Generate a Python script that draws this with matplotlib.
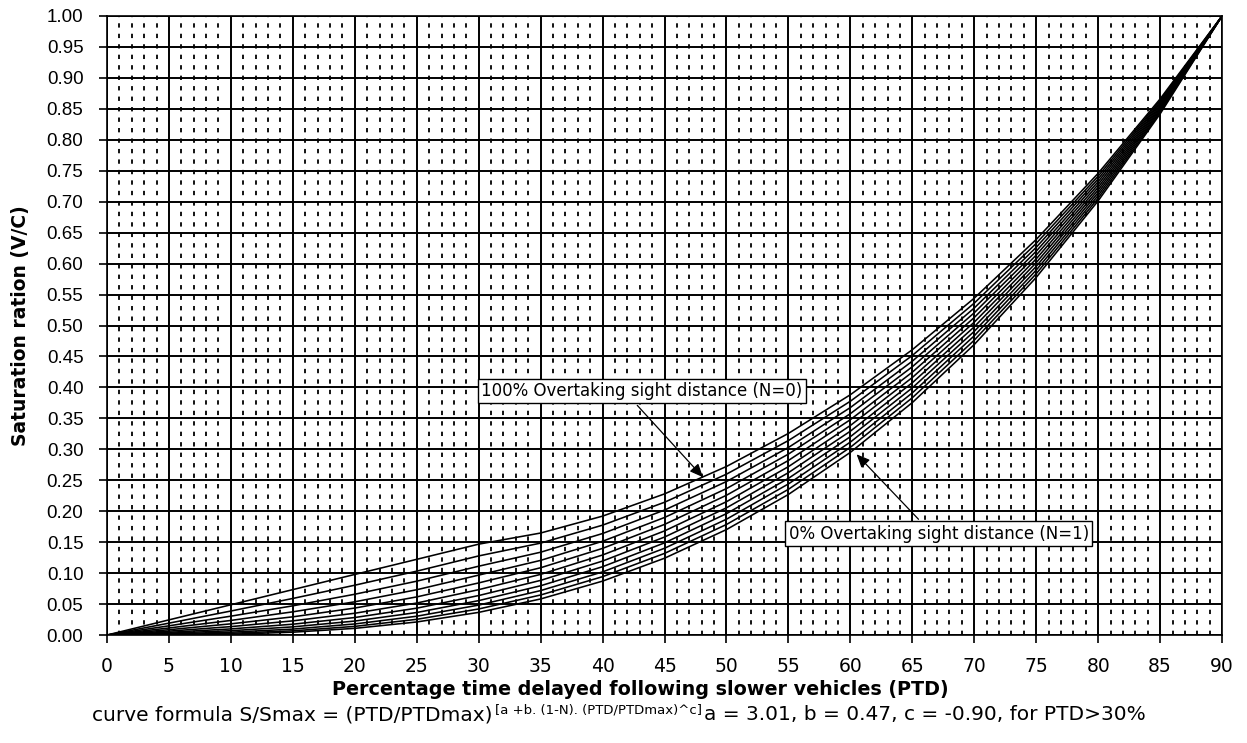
import matplotlib
matplotlib.use("Agg")
import matplotlib.pyplot as plt

ptd = [0, 5, 10, 15, 20, 25, 30, 35, 40, 45, 50, 55, 60, 65, 70, 75, 80, 85, 90]

# Saturation ratio read for each N (0 = 100% overtaking sight distance ... 1 = 0%)
sat_n00 = [0, 0.0245, 0.0489, 0.0734, 0.0979, 0.1223, 0.1468, 0.1648, 0.1921, 0.2280, 0.2723, 0.3257, 0.3882, 0.4609, 0.5442, 0.6390, 0.7459, 0.8660, 1.0]
sat_n01 = [0, 0.0192, 0.0388, 0.0591, 0.0805, 0.1032, 0.1278, 0.1485, 0.1775, 0.2145, 0.2599, 0.3142, 0.3777, 0.4516, 0.5362, 0.6326, 0.7413, 0.8636, 1.0]
sat_n02 = [0, 0.0149, 0.0305, 0.0472, 0.0659, 0.0870, 0.1112, 0.1338, 0.1640, 0.2019, 0.2480, 0.3030, 0.3675, 0.4424, 0.5283, 0.6263, 0.7368, 0.8611, 1.0]
sat_n03 = [0, 0.0114, 0.0236, 0.0375, 0.0537, 0.0732, 0.0968, 0.1206, 0.1515, 0.1899, 0.2366, 0.2923, 0.3576, 0.4334, 0.5206, 0.6200, 0.7323, 0.8587, 1.0]
sat_n04 = [0, 0.0086, 0.0181, 0.0294, 0.0436, 0.0616, 0.0842, 0.1087, 0.1400, 0.1787, 0.2258, 0.2820, 0.3479, 0.4246, 0.5129, 0.6138, 0.7278, 0.8562, 1.0]
sat_n05 = [0, 0.0063, 0.0136, 0.0229, 0.0352, 0.0517, 0.0733, 0.0980, 0.1293, 0.1682, 0.2154, 0.2720, 0.3385, 0.4160, 0.5054, 0.6076, 0.7233, 0.8538, 1.0]
sat_n06 = [0, 0.0044, 0.0099, 0.0175, 0.0283, 0.0434, 0.0638, 0.0883, 0.1195, 0.1583, 0.2055, 0.2623, 0.3293, 0.4076, 0.4979, 0.6015, 0.7189, 0.8514, 1.0]
sat_n07 = [0, 0.0030, 0.0070, 0.0132, 0.0226, 0.0364, 0.0556, 0.0796, 0.1104, 0.1489, 0.1961, 0.2531, 0.3204, 0.3993, 0.4906, 0.5955, 0.7145, 0.8490, 1.0]
sat_n08 = [0, 0.0018, 0.0046, 0.0096, 0.0179, 0.0304, 0.0484, 0.0718, 0.1020, 0.1402, 0.1871, 0.2441, 0.3117, 0.3912, 0.4834, 0.5895, 0.7101, 0.8466, 1.0]
sat_n09 = [0, 0.0009, 0.0028, 0.0068, 0.0140, 0.0254, 0.0421, 0.0647, 0.0943, 0.1319, 0.1786, 0.2354, 0.3033, 0.3833, 0.4763, 0.5836, 0.7057, 0.8442, 1.0]
sat_n10 = [0, 0.0002, 0.0013, 0.0046, 0.0108, 0.0211, 0.0366, 0.0583, 0.0871, 0.1241, 0.1704, 0.2271, 0.2951, 0.3755, 0.4693, 0.5777, 0.7014, 0.8418, 1.0]

curves = [sat_n00, sat_n01, sat_n02, sat_n03, sat_n04, sat_n05,
          sat_n06, sat_n07, sat_n08, sat_n09, sat_n10]

x_ticks = list(range(0, 95, 5))
y_ticks = [i / 20 for i in range(21)]

fig = plt.figure(figsize=(12.47, 7.43), dpi=100)
ax = fig.add_axes([0.0858, 0.1453, 0.8942, 0.8332])

# grid: solid major lines, dashed lines at every 1 %
for xv in range(1, 90):
    if xv % 5:
        ax.axvline(xv, color="black", lw=1.3, dashes=(2.4, 3.4), zorder=1)
for xv in x_ticks:
    ax.axvline(xv, color="black", lw=1.4, zorder=1)
for yv in y_ticks:
    ax.axhline(yv, color="black", lw=1.4, zorder=1)

for s in curves:
    ax.plot(ptd, s, color="black", lw=1.15, zorder=3)

ax.set_xlim(0, 90)
ax.set_ylim(0, 1)
ax.set_xticks(x_ticks)
ax.set_yticks(y_ticks)
ax.set_yticklabels(["%.2f" % v for v in y_ticks], family="Liberation Sans", fontsize=13.5)
ax.set_xticklabels([str(v) for v in x_ticks],
                   family=["Liberation Sans Narrow", "DejaVu Sans Condensed"], fontsize=13.5)
ax.tick_params(axis="y", length=6, width=1.2, pad=11)
ax.tick_params(axis="x", length=6, width=1.2, pad=10)
for sp in ax.spines.values():
    sp.set_linewidth(1.2)

ax.set_ylabel("Saturation ration (V/C)", fontsize=13.5, fontweight="bold", labelpad=12)
ax.set_xlabel("Percentage time delayed following slower vehicles (PTD)",
              fontsize=13.8, fontweight="bold", labelpad=6)
ax.xaxis.set_label_coords(0.478, -0.072)

box = dict(boxstyle="square,pad=0.2", fc="white", ec="black", lw=1.0)
ax.text(43.15, 0.394, "100% Overtaking sight distance (N=0)", fontsize=12,
        ha="center", va="center", bbox=box, zorder=5)
ax.text(67.13, 0.164, "0% Overtaking sight distance (N=1)", fontsize=12,
        ha="center", va="center", bbox=box, zorder=5)
arrow = dict(arrowstyle="-|>,head_length=0.8,head_width=0.35", color="black", lw=0.9,
             shrinkA=0, shrinkB=0)
ax.annotate("", xy=(48.1, 0.255), xytext=(42.8, 0.371), arrowprops=arrow, zorder=6)
ax.annotate("", xy=(60.5, 0.292), xytext=(65.5, 0.187), arrowprops=arrow, zorder=6)

# caption with the superscript exponent
fig.canvas.draw()
r = fig.canvas.get_renderer()
cap_font = dict(family="DejaVu Sans Condensed", fontsize=14.5)
t1 = fig.text(92 / 1247, 1 - 715 / 743, "curve formula S/Smax = (PTD/PTDmax)", va="center", **cap_font)
x1 = t1.get_window_extent(r).x1
t2 = fig.text(x1 / 1247 + 0.002, 1 - 710 / 743, "[a +b. (1-N). (PTD/PTDmax)^c]",
              va="center", family="DejaVu Sans Condensed", fontsize=9.5)
x2 = t2.get_window_extent(r).x1
fig.text(x2 / 1247 + 0.002, 1 - 715 / 743, "a = 3.01, b = 0.47, c = -0.90, for PTD>30%",
         va="center", **cap_font)

fig.savefig("out.png", dpi=100)
